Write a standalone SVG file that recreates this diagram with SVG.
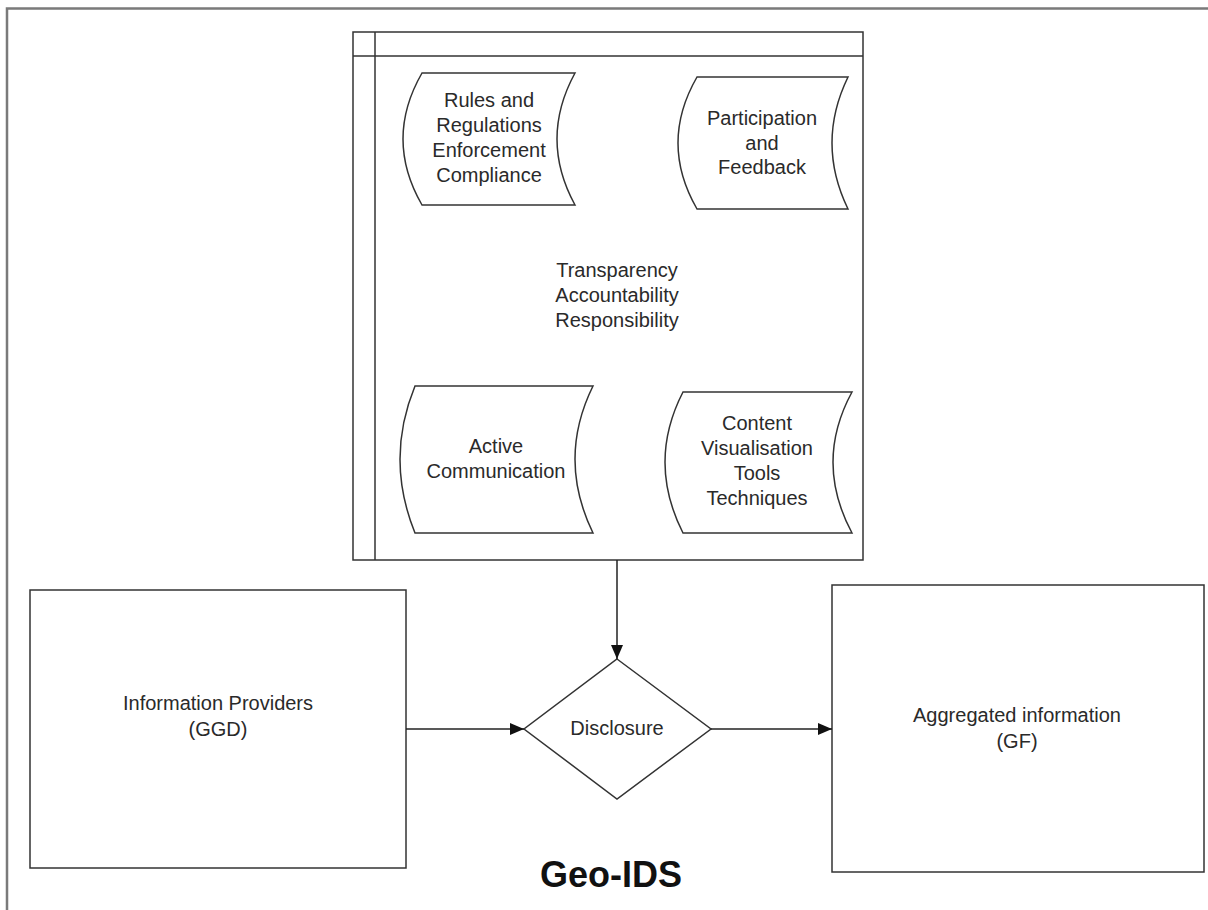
<svg xmlns="http://www.w3.org/2000/svg" width="1208" height="910" viewBox="0 0 1208 910">
<defs>
<style>
.frame{fill:none;stroke:#7a7a7a;stroke-width:2.5}
.shape{fill:#ffffff;stroke:#333333;stroke-width:1.5}
.conn{fill:none;stroke:#222222;stroke-width:1.5}
.t{font-family:"Liberation Sans",Arial,sans-serif;font-size:20px;fill:#2a2a2a;text-anchor:middle}
.title{font-family:"Liberation Sans",Arial,sans-serif;font-size:36px;font-weight:bold;fill:#111111;text-anchor:middle}
</style>
<marker id="arr" viewBox="0 0 14 12" refX="14" refY="6" markerWidth="14" markerHeight="12" markerUnits="userSpaceOnUse" orient="auto">
<path d="M0,0 L14,6 L0,12 Z" fill="#111111"/>
</marker>
</defs>
<rect width="1208" height="910" fill="#ffffff"/>
<g id="outer-frame">
<path class="frame" d="M7,910 L7,8.5 L1208,8.5"/>
</g>
<g id="container">
<rect class="shape" x="353" y="32" width="510" height="528"/>
<line class="shape" x1="353" y1="56" x2="863" y2="56"/>
<line class="shape" x1="375" y1="32" x2="375" y2="560"/>
<text class="t" x="617" y="277">Transparency</text>
<text class="t" x="617" y="302">Accountability</text>
<text class="t" x="617" y="327">Responsibility</text>
</g>
<g id="rules">
<path class="shape" d="M422,73 L575,73 Q539,139 575,205 L422,205 Q384,139 422,73 Z"/>
<text class="t" x="489" y="107">Rules and</text>
<text class="t" x="489" y="132">Regulations</text>
<text class="t" x="489" y="157">Enforcement</text>
<text class="t" x="489" y="182">Compliance</text>
</g>
<g id="participation">
<path class="shape" d="M697,77 L848,77 Q816,143 848,209 L697,209 Q659,143 697,77 Z"/>
<text class="t" x="762" y="125">Participation</text>
<text class="t" x="762" y="150">and</text>
<text class="t" x="762" y="174">Feedback</text>
</g>
<g id="active">
<path class="shape" d="M415,386 L593,386 Q557,459 593,533 L415,533 Q385,459 415,386 Z"/>
<text class="t" x="496" y="453">Active</text>
<text class="t" x="496" y="478">Communication</text>
</g>
<g id="content">
<path class="shape" d="M683,392 L852,392 Q814,462 852,533 L683,533 Q647,462 683,392 Z"/>
<text class="t" x="757" y="430">Content</text>
<text class="t" x="757" y="455">Visualisation</text>
<text class="t" x="757" y="480">Tools</text>
<text class="t" x="757" y="505">Techniques</text>
</g>
<g id="providers">
<rect class="shape" x="30" y="590" width="376" height="278"/>
<text class="t" x="218" y="710">Information Providers</text>
<text class="t" x="218" y="736">(GGD)</text>
</g>
<g id="disclosure">
<path class="shape" d="M617,659 L711,729 L617,799 L524,729 Z"/>
<text class="t" x="617" y="735">Disclosure</text>
</g>
<g id="aggregated">
<rect class="shape" x="832" y="585" width="372" height="287"/>
<text class="t" x="1017" y="722">Aggregated information</text>
<text class="t" x="1017" y="748">(GF)</text>
</g>
<g id="connectors">
<line class="conn" x1="617" y1="560" x2="617" y2="659" marker-end="url(#arr)"/>
<line class="conn" x1="406" y1="729" x2="524" y2="729" marker-end="url(#arr)"/>
<line class="conn" x1="711" y1="729" x2="832" y2="729" marker-end="url(#arr)"/>
</g>
<g id="title">
<text class="title" x="611" y="887">Geo-IDS</text>
</g>
</svg>
